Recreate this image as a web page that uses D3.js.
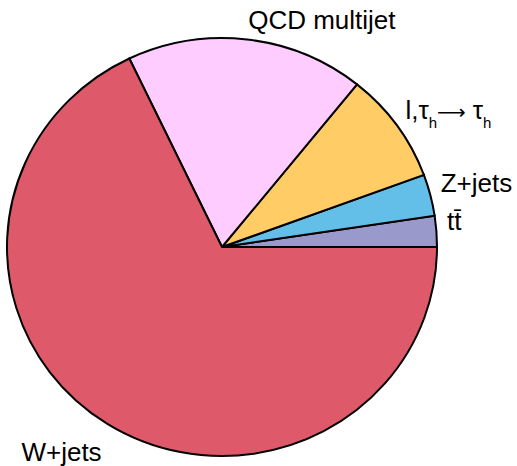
<!DOCTYPE html>
<html>
<head>
<meta charset="utf-8">
<script src="https://cdn.jsdelivr.net/npm/d3@7"></script>
<style>
  body { margin: 0; background: #fff; }
  svg text { font-family: "Liberation Sans", Arial, sans-serif; font-size: 26px; fill: #000; }
</style>
</head>
<body>
<svg width="517" height="466"></svg>
<script>
// slices, counterclockwise from 3 o'clock
const categories = ['ttbar', 'Z+jets', 'ltau', 'QCD multijet', 'W+jets'];
const fractions = [2.4, 3.2, 8.6, 17.9, 67.9];
const colors = ['#9999cc', '#63bfe8', '#ffcc66', '#ffccff', '#de5a6a'];

const svg = d3.select('svg');

const cx = 222, cy = 247;
const rx = 215, ry = 209;
const labelOffset = 1.05;

const data = categories.map((c, i) => ({ name: c, value: fractions[i], color: colors[i] }));

const pie = d3.pie()
  .sort(null)
  .value(d => d.value)
  .startAngle(Math.PI / 2)
  .endAngle(Math.PI / 2 - 2 * Math.PI);

const arcs = pie(data);

const arc = d3.arc().innerRadius(0).outerRadius(1);

const g = svg.append('g')
  .attr('transform', `translate(${cx},${cy}) scale(${rx},${ry})`);

g.selectAll('path').data(arcs)
  .enter().append('path')
    .attr('d', arc)
    .attr('fill', d => d.data.color)
    .attr('stroke', '#000')
    .attr('stroke-width', 2)
    .attr('vector-effect', 'non-scaling-stroke')
    .attr('stroke-linejoin', 'miter');

// labels: ROOT-like placement at mid angle, just outside the pie
const labels = svg.append('g');
arcs.forEach(d => {
  const mid = (d.startAngle + d.endAngle) / 2;
  const t = Math.PI / 2 - mid; // math angle
  let deg = (t * 180 / Math.PI) % 360;
  if (deg < 0) deg += 360;
  const x = cx + rx * labelOffset * Math.cos(t);
  const y = cy - ry * labelOffset * Math.sin(t);
  const anchor = (deg > 90 && deg < 270) ? 'end' : 'start';
  const baseY = deg > 180 ? y + 28 : y;

  const txt = labels.append('text')
    .attr('x', x)
    .attr('y', baseY)
    .attr('text-anchor', anchor);

  if (d.data.name === 'ltau') {
    txt.append('tspan').text('l,τ');
    txt.append('tspan').attr('dy', 9).style('font-size', '15px').text('h');
    txt.append('tspan').attr('dy', -9).attr('dx', 0)
      .style('font-family', '"DejaVu Sans", sans-serif').style('font-size', '20px').text('⟶');
    txt.append('tspan').attr('dx', 7).text('τ');
    txt.append('tspan').attr('dy', 9).style('font-size', '15px').text('h');
  } else if (d.data.name === 'ttbar') {
    txt.text('tt\u0304');
  } else {
    txt.text(d.data.name);
  }
});
</script>
</body>
</html>
